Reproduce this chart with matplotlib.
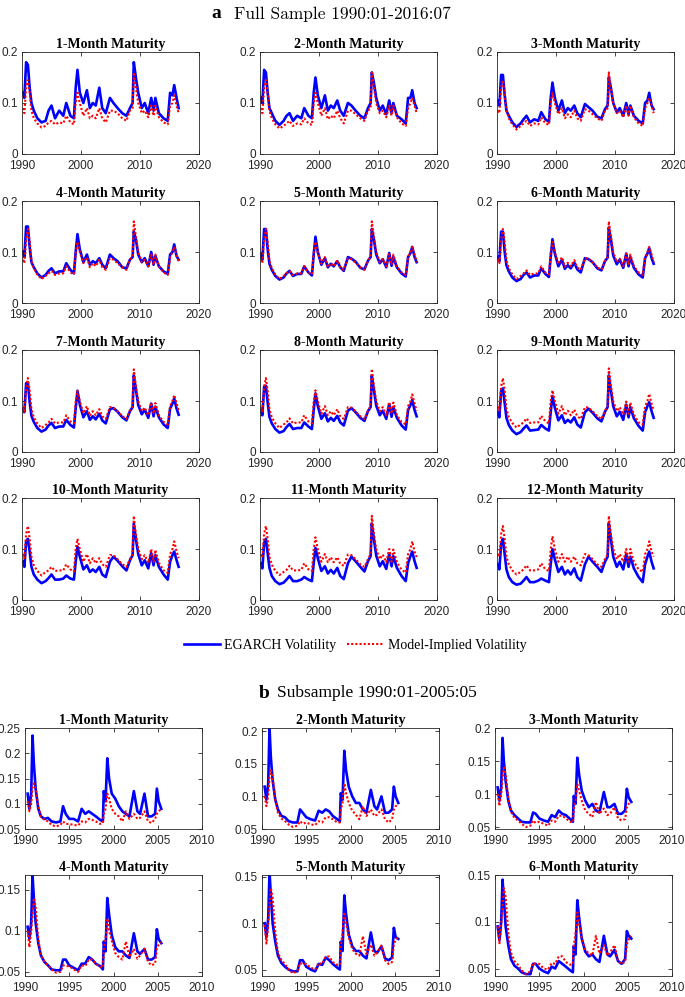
import matplotlib
matplotlib.use("Agg")
import matplotlib.pyplot as plt
from matplotlib.lines import Line2D

# ---------------- data: full sample (1990:01-2016:07) ----------------
dates_full = [1990.2, 1990.4, 1990.7, 1991.0, 1991.3, 1991.6, 1992.0, 1992.6, 1993.3, 1994.0,
              1994.5, 1995.0, 1995.6, 1996.3, 1997.0, 1997.5, 1998.2, 1998.8, 1999.1, 1999.4,
              1999.8, 2000.4, 2001.0, 2001.5, 2002.0, 2002.5, 2003.1, 2003.6, 2004.2, 2004.9,
              2005.5, 2006.2, 2007.0, 2007.7, 2008.3, 2008.75, 2008.95, 2009.3, 2009.7, 2010.3,
              2010.8, 2011.4, 2011.9, 2012.3, 2012.6, 2013.2, 2014.0, 2014.7, 2015.1, 2015.5,
              2015.8, 2016.2, 2016.55]

egarch_m1 = [0.12, 0.11, 0.18, 0.175, 0.13, 0.10, 0.085, 0.07, 0.062, 0.065, 0.085, 0.095, 0.07, 0.085, 0.075, 0.10, 0.075, 0.07, 0.13, 0.165, 0.12, 0.10, 0.125, 0.09, 0.10, 0.095, 0.13, 0.09, 0.08, 0.11, 0.10, 0.09, 0.08, 0.075, 0.09, 0.10, 0.18, 0.15, 0.12, 0.09, 0.10, 0.08, 0.11, 0.085, 0.11, 0.08, 0.07, 0.065, 0.12, 0.115, 0.135, 0.11, 0.09]
model_m1 = [0.09, 0.08, 0.13, 0.145, 0.12, 0.085, 0.07, 0.06, 0.052, 0.055, 0.062, 0.065, 0.058, 0.062, 0.06, 0.075, 0.062, 0.058, 0.10, 0.12, 0.10, 0.075, 0.09, 0.07, 0.075, 0.07, 0.09, 0.07, 0.062, 0.085, 0.085, 0.08, 0.07, 0.065, 0.085, 0.09, 0.16, 0.13, 0.10, 0.08, 0.085, 0.072, 0.095, 0.075, 0.095, 0.072, 0.062, 0.058, 0.095, 0.10, 0.115, 0.095, 0.08]

egarch_m2 = [0.11, 0.10, 0.165, 0.16, 0.12, 0.09, 0.08, 0.065, 0.057, 0.065, 0.075, 0.08, 0.065, 0.075, 0.07, 0.09, 0.075, 0.07, 0.12, 0.15, 0.115, 0.09, 0.115, 0.085, 0.095, 0.09, 0.105, 0.085, 0.075, 0.10, 0.095, 0.085, 0.075, 0.07, 0.09, 0.10, 0.16, 0.14, 0.11, 0.085, 0.095, 0.078, 0.105, 0.08, 0.10, 0.075, 0.068, 0.06, 0.11, 0.11, 0.125, 0.10, 0.09]
model_m2 = [0.09, 0.08, 0.13, 0.145, 0.12, 0.085, 0.07, 0.058, 0.05, 0.055, 0.06, 0.065, 0.055, 0.06, 0.058, 0.07, 0.06, 0.057, 0.10, 0.12, 0.10, 0.075, 0.09, 0.068, 0.075, 0.07, 0.085, 0.07, 0.06, 0.085, 0.085, 0.078, 0.07, 0.065, 0.085, 0.09, 0.16, 0.13, 0.10, 0.08, 0.085, 0.072, 0.095, 0.075, 0.095, 0.072, 0.06, 0.055, 0.09, 0.10, 0.11, 0.095, 0.08]

egarch_m3 = [0.105, 0.095, 0.155, 0.155, 0.115, 0.085, 0.075, 0.062, 0.053, 0.06, 0.068, 0.075, 0.062, 0.068, 0.065, 0.082, 0.068, 0.063, 0.11, 0.14, 0.11, 0.085, 0.105, 0.08, 0.09, 0.085, 0.095, 0.08, 0.072, 0.098, 0.092, 0.085, 0.073, 0.07, 0.088, 0.095, 0.15, 0.13, 0.10, 0.082, 0.09, 0.075, 0.10, 0.078, 0.095, 0.075, 0.065, 0.06, 0.10, 0.105, 0.12, 0.095, 0.088]
model_m3 = [0.085, 0.08, 0.13, 0.145, 0.12, 0.085, 0.07, 0.058, 0.048, 0.055, 0.06, 0.065, 0.055, 0.06, 0.058, 0.072, 0.06, 0.057, 0.10, 0.12, 0.10, 0.078, 0.09, 0.07, 0.078, 0.072, 0.085, 0.07, 0.065, 0.088, 0.085, 0.078, 0.07, 0.065, 0.085, 0.09, 0.16, 0.13, 0.10, 0.08, 0.085, 0.072, 0.095, 0.075, 0.095, 0.072, 0.06, 0.055, 0.09, 0.10, 0.11, 0.095, 0.08]

egarch_m4 = [0.10, 0.09, 0.15, 0.15, 0.11, 0.08, 0.07, 0.058, 0.05, 0.055, 0.063, 0.068, 0.058, 0.062, 0.062, 0.078, 0.065, 0.058, 0.10, 0.135, 0.105, 0.08, 0.095, 0.075, 0.082, 0.078, 0.088, 0.075, 0.068, 0.095, 0.088, 0.082, 0.07, 0.068, 0.085, 0.09, 0.14, 0.125, 0.095, 0.08, 0.088, 0.072, 0.10, 0.075, 0.092, 0.072, 0.062, 0.057, 0.095, 0.10, 0.115, 0.092, 0.085]
model_m4 = [0.085, 0.078, 0.125, 0.145, 0.12, 0.082, 0.068, 0.056, 0.047, 0.053, 0.058, 0.063, 0.055, 0.058, 0.058, 0.072, 0.06, 0.056, 0.098, 0.12, 0.10, 0.078, 0.09, 0.07, 0.078, 0.072, 0.085, 0.07, 0.065, 0.088, 0.085, 0.078, 0.07, 0.065, 0.085, 0.09, 0.16, 0.13, 0.10, 0.08, 0.085, 0.072, 0.095, 0.075, 0.095, 0.072, 0.06, 0.055, 0.09, 0.10, 0.11, 0.095, 0.08]

egarch_m5 = [0.095, 0.085, 0.145, 0.145, 0.105, 0.077, 0.065, 0.053, 0.046, 0.05, 0.058, 0.063, 0.053, 0.057, 0.057, 0.072, 0.06, 0.054, 0.095, 0.13, 0.10, 0.075, 0.088, 0.07, 0.077, 0.072, 0.082, 0.07, 0.063, 0.09, 0.087, 0.081, 0.069, 0.066, 0.083, 0.09, 0.145, 0.125, 0.095, 0.078, 0.086, 0.07, 0.098, 0.073, 0.09, 0.07, 0.058, 0.052, 0.09, 0.098, 0.11, 0.09, 0.08]
model_m5 = [0.085, 0.078, 0.125, 0.145, 0.12, 0.083, 0.068, 0.056, 0.047, 0.053, 0.058, 0.063, 0.055, 0.058, 0.058, 0.072, 0.06, 0.056, 0.098, 0.12, 0.10, 0.077, 0.09, 0.07, 0.078, 0.072, 0.084, 0.07, 0.065, 0.088, 0.086, 0.079, 0.07, 0.065, 0.083, 0.09, 0.16, 0.13, 0.10, 0.08, 0.086, 0.072, 0.096, 0.075, 0.095, 0.072, 0.06, 0.055, 0.09, 0.10, 0.11, 0.095, 0.08]

egarch_m6 = [0.09, 0.082, 0.14, 0.14, 0.10, 0.074, 0.062, 0.05, 0.043, 0.047, 0.055, 0.06, 0.05, 0.054, 0.054, 0.068, 0.057, 0.051, 0.09, 0.125, 0.097, 0.072, 0.085, 0.067, 0.074, 0.068, 0.079, 0.066, 0.06, 0.088, 0.086, 0.08, 0.068, 0.064, 0.082, 0.089, 0.148, 0.125, 0.093, 0.076, 0.085, 0.069, 0.097, 0.072, 0.09, 0.069, 0.056, 0.05, 0.088, 0.097, 0.108, 0.088, 0.077]
model_m6 = [0.086, 0.078, 0.125, 0.145, 0.12, 0.083, 0.068, 0.056, 0.047, 0.053, 0.058, 0.064, 0.055, 0.058, 0.058, 0.072, 0.06, 0.056, 0.098, 0.12, 0.10, 0.076, 0.09, 0.071, 0.079, 0.072, 0.084, 0.07, 0.065, 0.088, 0.087, 0.08, 0.07, 0.065, 0.082, 0.09, 0.16, 0.13, 0.10, 0.08, 0.087, 0.072, 0.097, 0.075, 0.095, 0.072, 0.06, 0.055, 0.09, 0.10, 0.11, 0.095, 0.08]

egarch_m7 = [0.085, 0.078, 0.135, 0.135, 0.098, 0.071, 0.059, 0.047, 0.04, 0.044, 0.052, 0.057, 0.047, 0.05, 0.05, 0.063, 0.053, 0.048, 0.086, 0.12, 0.093, 0.068, 0.08, 0.063, 0.07, 0.064, 0.075, 0.062, 0.056, 0.084, 0.086, 0.079, 0.068, 0.062, 0.08, 0.088, 0.15, 0.123, 0.092, 0.074, 0.083, 0.067, 0.095, 0.07, 0.089, 0.068, 0.054, 0.047, 0.085, 0.095, 0.105, 0.085, 0.073]
model_m7 = [0.087, 0.079, 0.127, 0.145, 0.12, 0.084, 0.068, 0.056, 0.047, 0.053, 0.058, 0.065, 0.056, 0.058, 0.058, 0.072, 0.06, 0.056, 0.099, 0.12, 0.10, 0.076, 0.09, 0.071, 0.08, 0.072, 0.084, 0.07, 0.065, 0.088, 0.087, 0.08, 0.07, 0.065, 0.082, 0.09, 0.162, 0.13, 0.10, 0.08, 0.087, 0.072, 0.097, 0.075, 0.096, 0.072, 0.059, 0.054, 0.09, 0.10, 0.112, 0.095, 0.081]

egarch_m8 = [0.082, 0.072, 0.128, 0.13, 0.097, 0.069, 0.056, 0.045, 0.038, 0.041, 0.049, 0.055, 0.045, 0.047, 0.047, 0.058, 0.05, 0.045, 0.082, 0.115, 0.09, 0.065, 0.076, 0.06, 0.067, 0.061, 0.071, 0.058, 0.052, 0.081, 0.086, 0.078, 0.067, 0.061, 0.08, 0.088, 0.15, 0.122, 0.091, 0.072, 0.081, 0.065, 0.094, 0.069, 0.088, 0.067, 0.052, 0.044, 0.082, 0.092, 0.102, 0.082, 0.07]
model_m8 = [0.088, 0.08, 0.128, 0.145, 0.12, 0.084, 0.068, 0.056, 0.047, 0.054, 0.058, 0.066, 0.056, 0.058, 0.058, 0.072, 0.06, 0.056, 0.099, 0.121, 0.10, 0.075, 0.09, 0.072, 0.08, 0.072, 0.084, 0.07, 0.065, 0.088, 0.087, 0.08, 0.07, 0.065, 0.081, 0.09, 0.163, 0.13, 0.10, 0.08, 0.088, 0.072, 0.098, 0.075, 0.097, 0.072, 0.059, 0.054, 0.09, 0.10, 0.113, 0.095, 0.081]

egarch_m9 = [0.078, 0.068, 0.12, 0.125, 0.096, 0.067, 0.053, 0.042, 0.035, 0.039, 0.046, 0.052, 0.042, 0.043, 0.044, 0.053, 0.046, 0.042, 0.078, 0.11, 0.087, 0.062, 0.072, 0.057, 0.063, 0.058, 0.068, 0.054, 0.048, 0.078, 0.085, 0.077, 0.066, 0.06, 0.079, 0.088, 0.15, 0.121, 0.09, 0.07, 0.079, 0.063, 0.093, 0.068, 0.088, 0.066, 0.051, 0.042, 0.078, 0.09, 0.098, 0.08, 0.067]
model_m9 = [0.089, 0.081, 0.129, 0.145, 0.12, 0.085, 0.068, 0.057, 0.048, 0.054, 0.058, 0.066, 0.057, 0.058, 0.058, 0.071, 0.06, 0.056, 0.10, 0.121, 0.10, 0.075, 0.09, 0.072, 0.081, 0.072, 0.083, 0.07, 0.065, 0.088, 0.087, 0.08, 0.07, 0.065, 0.081, 0.09, 0.164, 0.13, 0.10, 0.08, 0.088, 0.073, 0.099, 0.075, 0.097, 0.073, 0.058, 0.054, 0.09, 0.10, 0.114, 0.095, 0.082]

egarch_m10 = [0.075, 0.065, 0.115, 0.12, 0.095, 0.065, 0.05, 0.04, 0.033, 0.037, 0.043, 0.05, 0.04, 0.04, 0.042, 0.048, 0.042, 0.04, 0.075, 0.105, 0.085, 0.06, 0.068, 0.055, 0.06, 0.055, 0.065, 0.05, 0.045, 0.075, 0.085, 0.077, 0.066, 0.058, 0.078, 0.088, 0.15, 0.12, 0.09, 0.068, 0.078, 0.062, 0.092, 0.068, 0.088, 0.065, 0.05, 0.04, 0.075, 0.088, 0.095, 0.078, 0.065]
model_m10 = [0.09, 0.082, 0.13, 0.145, 0.12, 0.085, 0.068, 0.057, 0.048, 0.055, 0.058, 0.065, 0.057, 0.058, 0.058, 0.07, 0.06, 0.056, 0.10, 0.12, 0.10, 0.075, 0.09, 0.072, 0.082, 0.072, 0.082, 0.07, 0.065, 0.088, 0.088, 0.08, 0.07, 0.065, 0.08, 0.09, 0.165, 0.13, 0.10, 0.08, 0.088, 0.073, 0.10, 0.075, 0.098, 0.073, 0.058, 0.053, 0.09, 0.10, 0.115, 0.095, 0.082]

egarch_m11 = [0.072, 0.062, 0.112, 0.12, 0.092, 0.063, 0.047, 0.037, 0.031, 0.034, 0.04, 0.047, 0.037, 0.037, 0.04, 0.045, 0.04, 0.037, 0.072, 0.102, 0.082, 0.057, 0.066, 0.052, 0.059, 0.052, 0.063, 0.047, 0.041, 0.072, 0.085, 0.076, 0.065, 0.056, 0.076, 0.086, 0.15, 0.12, 0.087, 0.066, 0.076, 0.061, 0.091, 0.066, 0.086, 0.063, 0.047, 0.037, 0.072, 0.086, 0.095, 0.076, 0.063]
model_m11 = [0.09, 0.083, 0.13, 0.145, 0.12, 0.085, 0.069, 0.057, 0.049, 0.055, 0.059, 0.067, 0.058, 0.058, 0.059, 0.072, 0.06, 0.057, 0.10, 0.123, 0.10, 0.075, 0.09, 0.074, 0.084, 0.074, 0.084, 0.071, 0.067, 0.089, 0.088, 0.08, 0.07, 0.065, 0.08, 0.09, 0.165, 0.13, 0.10, 0.08, 0.089, 0.074, 0.10, 0.075, 0.099, 0.074, 0.059, 0.054, 0.09, 0.10, 0.115, 0.095, 0.084]

egarch_m12 = [0.07, 0.06, 0.11, 0.12, 0.09, 0.06, 0.045, 0.035, 0.03, 0.032, 0.038, 0.045, 0.035, 0.035, 0.038, 0.042, 0.038, 0.035, 0.07, 0.10, 0.08, 0.055, 0.065, 0.05, 0.058, 0.05, 0.062, 0.045, 0.038, 0.07, 0.085, 0.075, 0.065, 0.055, 0.075, 0.085, 0.15, 0.12, 0.085, 0.065, 0.075, 0.06, 0.09, 0.065, 0.085, 0.062, 0.045, 0.035, 0.07, 0.085, 0.095, 0.075, 0.062]
model_m12 = [0.09, 0.085, 0.13, 0.145, 0.12, 0.085, 0.07, 0.058, 0.05, 0.055, 0.06, 0.068, 0.058, 0.058, 0.06, 0.072, 0.06, 0.057, 0.10, 0.125, 0.10, 0.075, 0.09, 0.075, 0.085, 0.075, 0.085, 0.072, 0.068, 0.09, 0.088, 0.08, 0.07, 0.065, 0.08, 0.09, 0.165, 0.13, 0.10, 0.08, 0.09, 0.075, 0.10, 0.075, 0.10, 0.075, 0.06, 0.055, 0.09, 0.10, 0.115, 0.095, 0.085]

# ---------------- data: subsample (1990:01-2005:05) ----------------
dates_sub = [1990.3, 1990.5, 1990.7, 1990.85, 1991.0, 1991.2, 1991.5, 1991.8, 1992.2, 1992.6,
             1993.0, 1993.5, 1994.0, 1994.3, 1994.6, 1995.0, 1995.5, 1996.0, 1996.4, 1996.8,
             1997.2, 1997.6, 1998.0, 1998.5, 1998.8, 1998.9, 1999.1, 1999.3, 1999.5, 1999.8,
             2000.2, 2000.6, 2001.0, 2001.4, 2001.8, 2002.3, 2002.7, 2003.0, 2003.5, 2003.9,
             2004.3, 2004.7, 2004.9, 2005.1, 2005.4]

sub_egarch_m1 = [0.12, 0.09, 0.12, 0.235, 0.18, 0.13, 0.09, 0.075, 0.07, 0.072, 0.065, 0.063, 0.065, 0.095, 0.08, 0.07, 0.07, 0.065, 0.09, 0.08, 0.085, 0.08, 0.075, 0.068, 0.065, 0.125, 0.105, 0.19, 0.15, 0.12, 0.11, 0.095, 0.085, 0.08, 0.075, 0.125, 0.085, 0.08, 0.12, 0.075, 0.075, 0.08, 0.13, 0.105, 0.09]
sub_model_m1 = [0.105, 0.085, 0.10, 0.135, 0.14, 0.13, 0.095, 0.075, 0.068, 0.065, 0.058, 0.055, 0.058, 0.065, 0.06, 0.06, 0.058, 0.057, 0.065, 0.063, 0.07, 0.068, 0.065, 0.06, 0.062, 0.08, 0.09, 0.12, 0.11, 0.09, 0.08, 0.075, 0.065, 0.085, 0.07, 0.08, 0.07, 0.072, 0.085, 0.065, 0.062, 0.07, 0.08, 0.085, 0.09]

sub_egarch_m2 = [0.115, 0.095, 0.12, 0.205, 0.16, 0.125, 0.095, 0.08, 0.07, 0.068, 0.062, 0.06, 0.06, 0.08, 0.075, 0.068, 0.065, 0.063, 0.078, 0.075, 0.08, 0.077, 0.07, 0.065, 0.062, 0.105, 0.095, 0.17, 0.14, 0.115, 0.10, 0.09, 0.09, 0.08, 0.075, 0.11, 0.085, 0.08, 0.10, 0.075, 0.075, 0.08, 0.115, 0.10, 0.09]
sub_model_m2 = [0.10, 0.085, 0.10, 0.13, 0.14, 0.13, 0.095, 0.075, 0.066, 0.062, 0.057, 0.053, 0.055, 0.062, 0.058, 0.06, 0.057, 0.056, 0.062, 0.06, 0.068, 0.068, 0.065, 0.06, 0.06, 0.08, 0.09, 0.12, 0.105, 0.09, 0.078, 0.072, 0.065, 0.085, 0.07, 0.08, 0.07, 0.072, 0.08, 0.065, 0.06, 0.065, 0.08, 0.085, 0.088]

sub_egarch_m3 = [0.11, 0.09, 0.11, 0.185, 0.15, 0.12, 0.09, 0.075, 0.068, 0.063, 0.058, 0.057, 0.057, 0.072, 0.07, 0.063, 0.06, 0.058, 0.068, 0.065, 0.075, 0.07, 0.068, 0.062, 0.058, 0.097, 0.085, 0.155, 0.13, 0.105, 0.09, 0.08, 0.085, 0.075, 0.072, 0.103, 0.08, 0.08, 0.085, 0.07, 0.07, 0.075, 0.108, 0.095, 0.088]
sub_model_m3 = [0.10, 0.082, 0.10, 0.125, 0.14, 0.13, 0.095, 0.073, 0.064, 0.06, 0.055, 0.05, 0.052, 0.06, 0.056, 0.058, 0.055, 0.052, 0.06, 0.058, 0.067, 0.067, 0.063, 0.058, 0.057, 0.078, 0.09, 0.115, 0.105, 0.09, 0.075, 0.07, 0.065, 0.088, 0.07, 0.078, 0.068, 0.07, 0.08, 0.063, 0.06, 0.062, 0.08, 0.085, 0.088]

sub_egarch_m4 = [0.105, 0.09, 0.11, 0.168, 0.14, 0.11, 0.085, 0.07, 0.062, 0.058, 0.053, 0.052, 0.052, 0.065, 0.065, 0.058, 0.055, 0.052, 0.06, 0.06, 0.068, 0.065, 0.06, 0.057, 0.053, 0.087, 0.075, 0.14, 0.12, 0.095, 0.08, 0.075, 0.075, 0.07, 0.067, 0.097, 0.075, 0.072, 0.078, 0.065, 0.065, 0.068, 0.102, 0.09, 0.085]
sub_model_m4 = [0.10, 0.08, 0.10, 0.12, 0.14, 0.13, 0.09, 0.07, 0.062, 0.058, 0.053, 0.049, 0.05, 0.058, 0.057, 0.057, 0.053, 0.05, 0.058, 0.057, 0.065, 0.065, 0.06, 0.056, 0.055, 0.077, 0.09, 0.115, 0.10, 0.088, 0.073, 0.068, 0.065, 0.087, 0.068, 0.078, 0.066, 0.07, 0.078, 0.062, 0.058, 0.06, 0.078, 0.083, 0.086]

sub_egarch_m5 = [0.10, 0.085, 0.105, 0.155, 0.13, 0.10, 0.08, 0.065, 0.057, 0.053, 0.05, 0.048, 0.048, 0.06, 0.06, 0.053, 0.05, 0.048, 0.056, 0.055, 0.063, 0.06, 0.056, 0.052, 0.05, 0.08, 0.07, 0.13, 0.11, 0.088, 0.075, 0.07, 0.07, 0.065, 0.062, 0.09, 0.07, 0.068, 0.075, 0.062, 0.06, 0.063, 0.095, 0.085, 0.083]
sub_model_m5 = [0.098, 0.078, 0.098, 0.118, 0.138, 0.128, 0.09, 0.068, 0.06, 0.056, 0.05, 0.046, 0.048, 0.057, 0.056, 0.056, 0.052, 0.05, 0.057, 0.056, 0.064, 0.064, 0.058, 0.055, 0.055, 0.075, 0.09, 0.112, 0.10, 0.085, 0.072, 0.067, 0.065, 0.086, 0.067, 0.077, 0.065, 0.068, 0.076, 0.06, 0.056, 0.058, 0.077, 0.082, 0.085]

sub_egarch_m6 = [0.095, 0.08, 0.10, 0.145, 0.125, 0.095, 0.075, 0.06, 0.053, 0.05, 0.046, 0.044, 0.044, 0.055, 0.055, 0.05, 0.047, 0.045, 0.052, 0.05, 0.058, 0.055, 0.052, 0.048, 0.046, 0.074, 0.065, 0.123, 0.105, 0.082, 0.068, 0.063, 0.065, 0.06, 0.057, 0.085, 0.065, 0.063, 0.07, 0.058, 0.055, 0.06, 0.09, 0.085, 0.082]
sub_model_m6 = [0.095, 0.077, 0.097, 0.117, 0.136, 0.127, 0.088, 0.067, 0.058, 0.054, 0.048, 0.044, 0.047, 0.056, 0.055, 0.055, 0.05, 0.049, 0.056, 0.055, 0.063, 0.063, 0.057, 0.054, 0.055, 0.074, 0.088, 0.11, 0.098, 0.083, 0.07, 0.066, 0.064, 0.085, 0.066, 0.075, 0.064, 0.067, 0.075, 0.058, 0.055, 0.057, 0.076, 0.081, 0.085]

full_titles = ["%d-Month Maturity" % k for k in range(1, 13)]
sub_titles = ["%d-Month Maturity" % k for k in range(1, 7)]
full_egarch = [egarch_m1, egarch_m2, egarch_m3, egarch_m4, egarch_m5, egarch_m6,
               egarch_m7, egarch_m8, egarch_m9, egarch_m10, egarch_m11, egarch_m12]
full_model = [model_m1, model_m2, model_m3, model_m4, model_m5, model_m6,
              model_m7, model_m8, model_m9, model_m10, model_m11, model_m12]
sub_egarch = [sub_egarch_m1, sub_egarch_m2, sub_egarch_m3, sub_egarch_m4, sub_egarch_m5, sub_egarch_m6]
sub_model = [sub_model_m1, sub_model_m2, sub_model_m3, sub_model_m4, sub_model_m5, sub_model_m6]
sub_ylims = [(0.05, 0.25), (0.05, 0.205), (0.047, 0.2), (0.045, 0.168), (0.043, 0.152), (0.042, 0.15)]
sub_yticks = [[0.05, 0.1, 0.15, 0.2, 0.25], [0.05, 0.1, 0.15, 0.2], [0.05, 0.1, 0.15, 0.2],
              [0.05, 0.1, 0.15], [0.05, 0.1, 0.15], [0.05, 0.1, 0.15]]

for s in full_egarch + full_model:
    assert len(s) == len(dates_full), len(s)
for s in sub_egarch + sub_model:
    assert len(s) == len(dates_sub), len(s)

# ---------------- figure ----------------
W, H = 685, 997
fig = plt.figure(figsize=(W / 100, H / 100), dpi=100)

TICKFONT = "Liberation Sans"
SERIF = "Liberation Serif"
BLUE = "#0000ff"
RED = "#ff0000"


def fax(left, top, width, height):
    return fig.add_axes([left / W, 1 - (top + height) / H, width / W, height / H])


def style(ax, title):
    ax.set_title(title, fontfamily=SERIF, fontweight="bold", fontsize=10, pad=3)
    ax.tick_params(direction="in", length=3, width=0.6, top=True, right=True,
                   labelsize=8.5, colors="#262626")
    ax.tick_params(axis="x", pad=4.5)
    ax.tick_params(axis="y", pad=3)
    for lab in ax.get_xticklabels() + ax.get_yticklabels():
        lab.set_fontfamily(TICKFONT)
    for sp in ax.spines.values():
        sp.set_linewidth(0.6)
        sp.set_color("#262626")


full_lefts = [22, 260, 497]
full_tops = [52, 201, 350, 498]
fw, fh = 177, 102
for i in range(12):
    r, c = divmod(i, 3)
    ax = fax(full_lefts[c], full_tops[r], fw, fh)
    ax.plot(dates_full, full_egarch[i], color=BLUE, lw=1.9, solid_joinstyle="round")
    ax.plot(dates_full, full_model[i], color=RED, lw=1.5, ls=(0, (1, 1)))
    ax.set_xlim(1990, 2020)
    ax.set_ylim(0, 0.2)
    ax.set_xticks([1990, 2000, 2010, 2020])
    ax.set_yticks([0, 0.1, 0.2])
    ax.set_yticklabels(["0", "0.1", "0.2"])
    style(ax, full_titles[i])

sub_lefts = [25, 262, 495]
sub_tops = [728, 875]
sw, sh = 177, 101
for i in range(6):
    r, c = divmod(i, 3)
    ax = fax(sub_lefts[c], sub_tops[r], sw, sh)
    ax.plot(dates_sub, sub_egarch[i], color=BLUE, lw=1.9, solid_joinstyle="round")
    ax.plot(dates_sub, sub_model[i], color=RED, lw=1.5, ls=(0, (1, 1)))
    ax.set_xlim(1990, 2010)
    ax.set_ylim(*sub_ylims[i])
    ax.set_xticks([1990, 1995, 2000, 2005, 2010])
    ax.set_yticks(sub_yticks[i])
    ax.set_yticklabels(["%g" % v for v in sub_yticks[i]])
    style(ax, sub_titles[i])

# panel headings
fig.text(211 / W, 1 - 14 / H, "a", ha="left", va="center", fontsize=14,
         fontfamily=SERIF, fontweight="bold")
fig.text(234 / W, 1 - 14 / H, "Full Sample 1990:01-2016:07", ha="left", va="center",
         fontsize=12.5, fontfamily="cmr10")
fig.text(259 / W, 1 - 693 / H, "b", ha="left", va="center", fontsize=14,
         fontfamily=SERIF, fontweight="bold")
fig.text(277 / W, 1 - 693 / H, "Subsample 1990:01-2005:05", ha="left", va="center",
         fontsize=12.5, fontfamily=SERIF)

# legend
handles = [Line2D([], [], color=BLUE, lw=1.9),
           Line2D([], [], color=RED, lw=1.5, ls=(0, (1, 1)))]
leg = fig.legend(handles, ["EGARCH Volatility", "Model-Implied Volatility"], loc="center",
                 bbox_to_anchor=(355 / W, 1 - 645 / H), ncol=2, frameon=False,
                 prop={"family": SERIF, "size": 10}, handlelength=2.6, handletextpad=0.3,
                 columnspacing=0.8)

fig.savefig("out.png", dpi=100)
